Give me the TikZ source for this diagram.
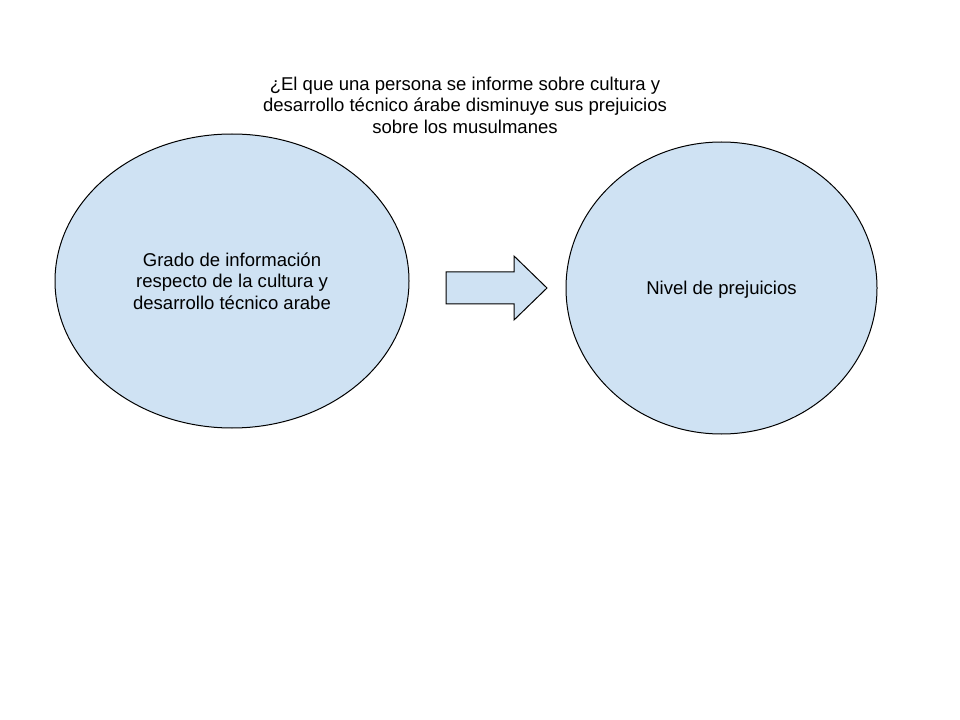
\documentclass[tikz,border=0pt]{standalone}
\usepackage{fontspec}
\setmainfont{Liberation Sans}
\usetikzlibrary{shapes.geometric}
\definecolor{boxfill}{HTML}{CFE2F3}
\tikzset{
  bubble/.style={ellipse, draw=black, line width=0.75pt, fill=boxfill, inner sep=0pt, align=center, text depth=0pt, font=\fontsize{13.9}{16.2}\selectfont},
  blockarrow/.style={draw=black, line width=0.75pt, fill=boxfill, line join=miter},
  titletext/.style={align=center, font=\fontsize{13.9}{16.2}\selectfont}
}
\begin{document}
\begin{tikzpicture}[x=0.75pt,y=-0.75pt]
\useasboundingbox (0,0) rectangle (960,720);
\node[titletext] (title) at (465,105) {¿El que una persona se informe sobre cultura y\\desarrollo técnico árabe disminuye sus prejuicios\\sobre los musulmanes};
\node[bubble, minimum width=265.5pt, minimum height=220.5pt] (cause) at (232,281) {Grado de información\\respecto de la cultura y\\desarrollo técnico arabe};
\node[bubble, minimum width=233.25pt, minimum height=219pt] (effect) at (721.5,288) {Nivel de prejuicios};
\draw[blockarrow] (446,272) -- (514,272) -- (514,256) -- (547,288) -- (514,320) -- (514,304) -- (446,304) -- cycle;
\end{tikzpicture}
\end{document}
